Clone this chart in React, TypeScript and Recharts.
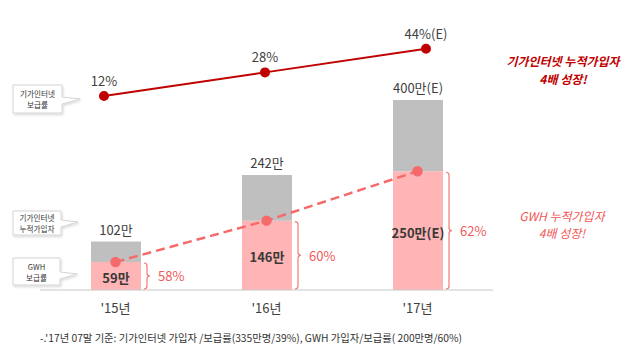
import React from 'react';
import { ComposedChart, LineChart, Bar, Line, XAxis, YAxis, LabelList } from 'recharts';

const FONT = '"Noto Sans CJK KR", "Noto Sans", sans-serif';

const years = ["'15년", "'16년", "'17년"];
const totalSubs = [102, 242, 400]; // 기가인터넷 누적가입자 (만)
const gwhSubs = [59, 146, 250]; // GWH 가입자 (만)
const gwhShare = [58, 60, 62]; // GWH 보급률 (%)
const gigaRate = [12, 28, 44]; // 기가인터넷 보급률 (%)
const estimated = [false, false, true];

const barData = years.map((y, i) => ({
  year: y,
  gwh: gwhSubs[i],
  rest: totalSubs[i] - gwhSubs[i],
  total: totalSubs[i],
}));
const rateData = years.map((y, i) => ({ year: y, rate: gigaRate[i] }));

const E = (i: number) => (estimated[i] ? '(E)' : '');

const TotalLabel = (p: any) => {
  const { x, y, width, index } = p;
  return (
    <text x={x + width / 2} y={y - 7} textAnchor="middle" fontSize={13} fill="#404040" fontFamily={FONT}>
      {totalSubs[index]}만{E(index)}
    </text>
  );
};

const GwhLabel = (p: any) => {
  const { x, y, width, height, index } = p;
  const bx = x + width + 6;
  const top = y + 1;
  const bottom = y + height - 1;
  const mid = y + height / 2;
  return (
    <g>
      <text x={x + width / 2} y={mid + 1.5} textAnchor="middle" dominantBaseline="central" fontSize={13}
        fontWeight="bold" fill="#3a3a3a" fontFamily={FONT}>
        {gwhSubs[index]}만{E(index)}
      </text>
      <path
        d={`M${bx - 3},${top} Q${bx},${top} ${bx},${top + 3} V${mid - 3} Q${bx},${mid} ${bx + 3},${mid} Q${bx},${mid} ${bx},${mid + 3} V${bottom - 3} Q${bx},${bottom} ${bx - 3},${bottom}`}
        fill="none" stroke="#f07a7a" strokeWidth={1.2} />
      <text x={bx + 11} y={mid} dominantBaseline="central" fontSize={13} fill="#f05b5b" fontFamily={FONT}>
        {gwhShare[index]}%
      </text>
    </g>
  );
};

const RateLabel = (p: any) => {
  const { x, y, index } = p;
  return (
    <text x={x} y={y - 10} textAnchor="middle" fontSize={13} fill="#404040" fontFamily={FONT}>
      {gigaRate[index]}%{E(index)}
    </text>
  );
};

// multi-line text, one line per element
const Lines = ({ x, y, gap, lines, ...rest }: any) => (
  <g>
    {lines.map((t: string, i: number) => (
      <text key={i} x={x} y={y + i * gap} textAnchor="middle" dominantBaseline="central" fontFamily={FONT} {...rest}>
        {t}
      </text>
    ))}
  </g>
);

const Callout = ({ x, y, w, h, tip, lines }: any) => {
  const r = x + w;
  const ty = tip[1];
  return (
    <g>
      <path
        d={`M${x},${y} H${r} V${ty - 2} L${tip[0]},${ty} L${r},${ty + 5} V${y + h} H${x} Z`}
        fill="#fff" stroke="#d4d4d4" strokeWidth={1} filter="url(#sh)" />
      <Lines x={x + w / 2} y={y + h / 2 - 5.5} gap={11} lines={lines} fontSize={7.6} fill="#333" />
    </g>
  );
};

export default function App() {
  return (
    <div style={{ position: 'absolute', left: 0, top: 0, width: 630, height: 352, background: '#fff', fontFamily: FONT }}>
      <div style={{ position: 'absolute', left: 0, top: 0 }}>
        <ComposedChart width={630} height={352} data={barData} margin={{ top: 100, right: 137, bottom: 32, left: 40 }}>
          <XAxis dataKey="year" height={30} tickLine={false} tickMargin={8} axisLine={{ stroke: '#c8c8c8' }}
            tick={{ fontSize: 13, fill: '#404040', fontFamily: FONT }} />
          <YAxis hide domain={[0, 400]} />
          <Bar dataKey="gwh" stackId="a" fill="#ffb5b5" barSize={50} isAnimationActive={false}>
            <LabelList dataKey="gwh" content={GwhLabel} />
          </Bar>
          <Bar dataKey="rest" stackId="a" fill="#bfbfbf" barSize={50} isAnimationActive={false}>
            <LabelList dataKey="total" content={TotalLabel} />
          </Bar>
          <Line dataKey="gwh" type="linear" stroke="#f56b6b" strokeWidth={2.5} strokeDasharray="9 5"
            dot={{ r: 4, fill: '#f56b6b', stroke: '#f56b6b', strokeDasharray: '0' }} isAnimationActive={false} />
        </ComposedChart>
      </div>
      <div style={{ position: 'absolute', left: 0, top: 0 }}>
        <LineChart width={630} height={352} data={rateData} margin={{ top: 40, right: 204, bottom: 238.4, left: 104 }}>
          <XAxis hide dataKey="year" scale="point" padding={{ left: 0, right: 0 }} />
          <YAxis hide domain={[0, 50]} />
          <Line dataKey="rate" type="linear" stroke="#c00000" strokeWidth={2}
            dot={{ r: 4, fill: '#c00000', stroke: '#c00000' }} isAnimationActive={false}>
            <LabelList dataKey="rate" content={RateLabel} />
          </Line>
        </LineChart>
      </div>
      <svg width={630} height={352} style={{ position: 'absolute', left: 0, top: 0, pointerEvents: 'none' }}>
        <defs>
          <filter id="sh" x="-20%" y="-20%" width="140%" height="160%">
            <feDropShadow dx="1" dy="1.5" stdDeviation="1" floodColor="#000" floodOpacity="0.15" />
          </filter>
        </defs>
        <Callout x={13} y={85} w={49} h={28} tip={[80, 99]} lines={['기가인터넷', '보급률']} />
        <Callout x={13} y={211} w={48} h={24} tip={[78, 222]} lines={['기가인터넷', '누적가입자']} />
        <Callout x={13} y={258} w={47} h={27} tip={[77, 274]} lines={['GWH', '보급률']} />

        <Lines x={563} y={60.5} gap={17.5} lines={['기가인터넷 누적가입자', '4배 성장!']}
          fontSize={12} fontWeight="bold" fontStyle="italic" fill="#c00000" />
        <Lines x={562} y={215} gap={17.5} lines={['GWH 누적가입자', '4배 성장!']}
          fontSize={12} fontStyle="italic" fill="#f05555" />

        <text x={40} y={337} dominantBaseline="central" fontSize={10.5} fill="#333" fontFamily={FONT}
          textLength={422} lengthAdjust="spacingAndGlyphs">
          -.'17년 07말 기준: 기가인터넷 가입자 /보급률(335만명/39%), GWH 가입자/보급률( 200만명/60%)
        </text>
      </svg>
    </div>
  );
}
